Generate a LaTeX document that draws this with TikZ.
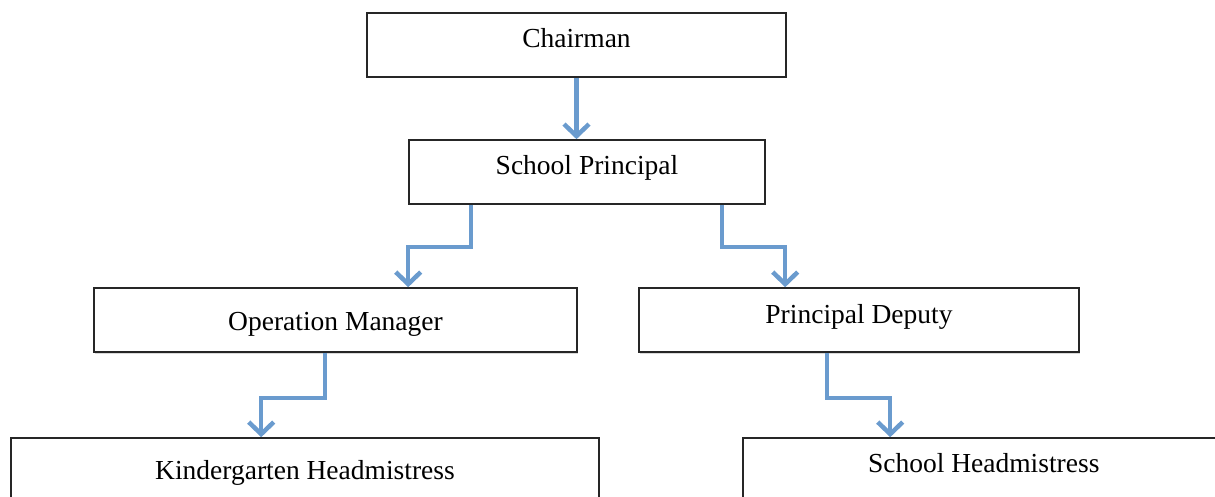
\documentclass[tikz,border=0pt]{standalone}
\usepackage{fontspec}
\setmainfont{Liberation Serif}
\usetikzlibrary{arrows.meta,shadows}
\definecolor{arrowblue}{HTML}{6A9BCE}
\tikzset{
  orgbox/.style={draw=black!85, line width=1.6pt, fill=white, rectangle, inner sep=0pt,
    font=\fontsize{27.5}{30}\selectfont,
    drop shadow={shadow xshift=1.2pt, shadow yshift=-1.5pt, opacity=0.25, fill=black!60}},
  link/.style={draw=arrowblue, line width=4.5pt, line join=miter,
    -{Straight Barb[length=12pt, width=25pt, line width=4.5pt]}}
}
\begin{document}
\begin{tikzpicture}[x=1pt, y=-1pt]
\useasboundingbox (0,0) rectangle (1215,497);
\node[orgbox, minimum width=419pt, minimum height=64pt, text height=22pt, text depth=16pt] (ch) at (576.5,45) {Chairman};
\node[orgbox, minimum width=356pt, minimum height=64pt, text height=22pt, text depth=16pt] (sp) at (587,172) {School Principal};
\node[orgbox, minimum width=483pt, minimum height=64pt, text height=22pt, text depth=2pt] (om) at (335.5,320) {Operation Manager};
\node[orgbox, minimum width=440pt, minimum height=64pt, text height=22pt, text depth=16pt] (pd) at (859,320) {Principal Deputy};
\node[orgbox, minimum width=588pt, minimum height=64pt, text height=22pt, text depth=4pt] (kh) at (305,470) {Kindergarten Headmistress};
\node[orgbox, minimum width=490pt, minimum height=64pt, text height=22pt, text depth=18pt, text width=470pt, align=flush left] (sh) at (988,470) {\hspace*{115pt}School Headmistress};
% connectors
\draw[link] (ch.south) -- (ch.south |- sp.north);
\draw[link] ([xshift=63pt]sp.south west) -- ++(0,42) -| ([xshift=315pt]om.north west);
\draw[link] ([xshift=314pt]sp.south west) -- ++(0,42) -| ([xshift=147pt]pd.north west);
\draw[link] ([xshift=232pt]om.south west) -- ++(0,45) -| ([xshift=251pt]kh.north west);
\draw[link] ([xshift=189pt]pd.south west) -- ++(0,45) -| ([xshift=148pt]sh.north west);
\end{tikzpicture}
\end{document}
